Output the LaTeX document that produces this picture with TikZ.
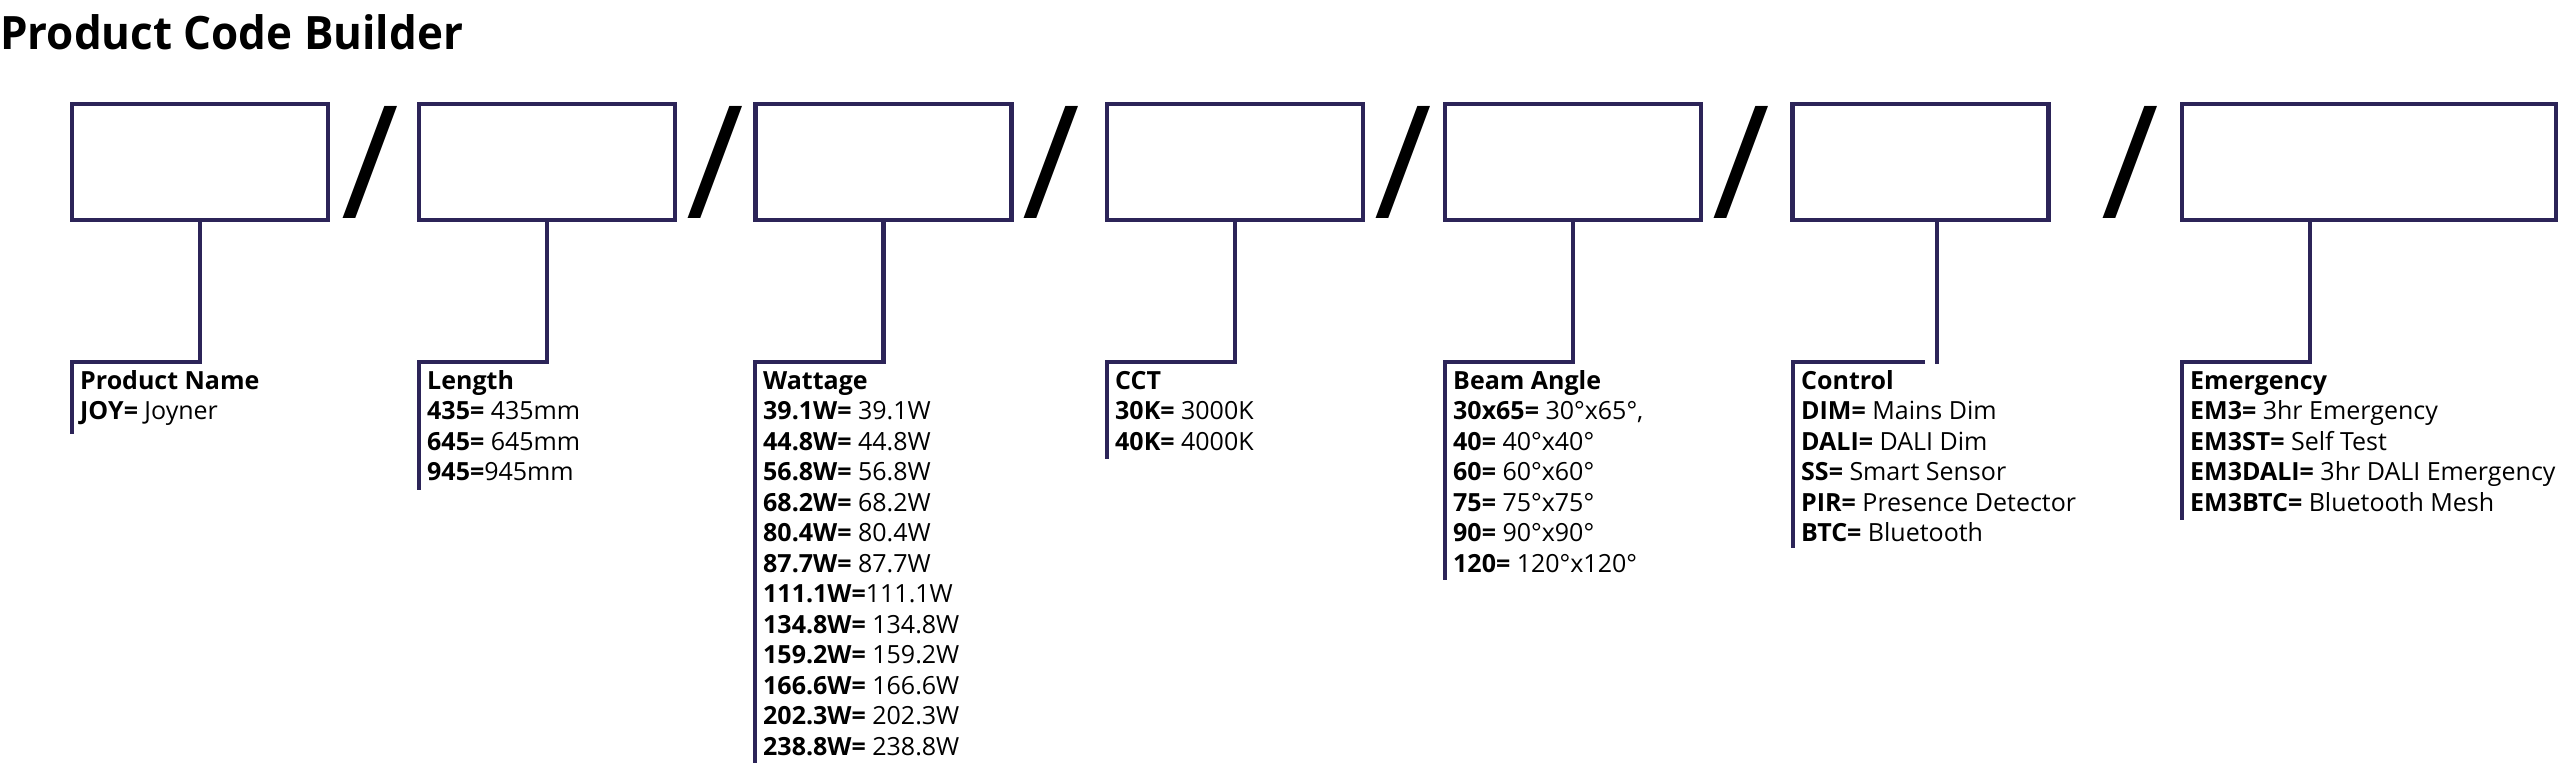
\documentclass[tikz,border=0pt]{standalone}
\usepackage{fontspec}
\setmainfont{Open Sans}
\definecolor{navy}{RGB}{44,36,88}
\newcommand\mypanel[3]{%
  \foreach \t [count=\i from 0] in {#3} {
    \node[entry] (#1-\i) at (#2+8, 389+30.5*\i) {\t};
  }}
\begin{document}
\begin{tikzpicture}[x=1pt,y=-1pt,
  box/.style={draw=navy,line width=4.5pt,minimum width=256pt,minimum height=116pt,inner sep=0pt,outer sep=0pt,anchor=north west},
  link/.style={draw=navy,line width=4.5pt,line join=miter},
  sepmark/.style={inner sep=0pt,anchor=base,font=\fontsize{157}{157}\selectfont},
  entry/.style={inner sep=0pt,anchor=base west,font=\fontsize{25}{30}\selectfont},
]
\useasboundingbox (0,0) rectangle (2560,771);
\node[anchor=base west,inner sep=0pt,font=\fontsize{46}{50}\selectfont\bfseries] (title) at (0,49) {\scalebox{0.955}[1]{Product Code Builder}};

\node[box] (b1) at (72,104) {};
\node[box] (b2) at (419,104) {};
\node[box] (b3) at (755.5,104) {};
\node[box] (b4) at (1107,104) {};
\node[box] (b5) at (1445,104) {};
\node[box] (b6) at (1792.5,104) {};
\node[box,minimum width=374pt] (b7) at (2182,104) {};

\node[sepmark] (s1) at (370,218) {/};
\node[sepmark] (s2) at (715,218) {/};
\node[sepmark] (s3) at (1051,218) {/};
\node[sepmark] (s4) at (1403.5,218) {/};
\node[sepmark] (s5) at (1741,218) {/};
\node[sepmark] (s6) at (2130,218) {/};

\coordinate (k1) at (72,362);   \coordinate (e1) at (72,434);
\coordinate (k2) at (419,362);  \coordinate (e2) at (419,490);
\coordinate (k3) at (755,362);  \coordinate (e3) at (755,763);
\coordinate (k4) at (1107,362); \coordinate (e4) at (1107,459);
\coordinate (k5) at (1445,362); \coordinate (e5) at (1445,580);
\coordinate (m6) at (1937,362); \coordinate (g6) at (1925,362);
\coordinate (k6) at (1793,362); \coordinate (e6) at (1793,548);
\coordinate (m7) at (2310,362);
\coordinate (k7) at (2182,362); \coordinate (e7) at (2182,520);

\draw[link] (b1.south) |- (k1) -- (e1);
\draw[link] (b2.south) |- (k2) -- (e2);
\draw[link] (b3.south) |- (k3) -- (e3);
\draw[link] (b4.south) |- (k4) -- (e4);
\draw[link] (b5.south) |- (k5) -- (e5);
\draw[link] (b6.south -| m6) -- ([yshift=-2pt]m6);
\draw[link] (g6) -- (k6) -- (e6);
\draw[link] (b7.south -| m7) -- (m7) -- (k7) -- (e7);

\mypanel{p1}{72}{{\textbf{Product Name}},{\textbf{JOY=} Joyner}}
\mypanel{p2}{419}{{\textbf{Length}},{\textbf{435=} 435mm},{\textbf{645=} 645mm},{\textbf{945=}945mm}}
\mypanel{p3}{755}{{\textbf{Wattage}},{\textbf{39.1W=} 39.1W},{\textbf{44.8W=} 44.8W},{\textbf{56.8W=} 56.8W},{\textbf{68.2W=} 68.2W},{\textbf{80.4W=} 80.4W},{\textbf{87.7W=} 87.7W},{\textbf{111.1W=}111.1W},{\textbf{134.8W=} 134.8W},{\textbf{159.2W=} 159.2W},{\textbf{166.6W=} 166.6W},{\textbf{202.3W=} 202.3W},{\textbf{238.8W=} 238.8W}}
\mypanel{p4}{1107}{{\textbf{CCT}},{\textbf{30K=} 3000K},{\textbf{40K=} 4000K}}
\mypanel{p5}{1445}{{\textbf{Beam Angle}},{\textbf{30x65=} 30°x65°,},{\textbf{40=} 40°x40°},{\textbf{60=} 60°x60°},{\textbf{75=} 75°x75°},{\textbf{90=} 90°x90°},{\textbf{120=} 120°x120°}}
\mypanel{p6}{1793}{{\textbf{Control}},{\textbf{DIM=} Mains Dim},{\textbf{DALI=} DALI Dim},{\textbf{SS=} Smart Sensor},{\textbf{PIR=} Presence Detector},{\textbf{BTC=} Bluetooth}}
\mypanel{p7}{2182}{{\textbf{Emergency}},{\textbf{EM3=} 3hr Emergency},{\textbf{EM3ST=} Self Test},{\textbf{EM3DALI=} 3hr DALI Emergency},{\textbf{EM3BTC=} Bluetooth Mesh}}
\end{tikzpicture}
\end{document}
